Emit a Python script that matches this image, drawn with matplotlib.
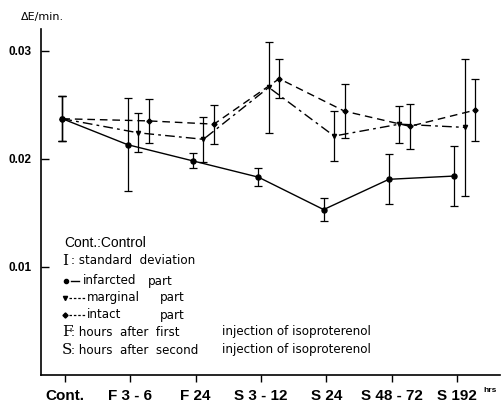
import numpy as np
import matplotlib
matplotlib.use("Agg")
import matplotlib.pyplot as plt
from matplotlib.lines import Line2D

# Time points (group labels) and measured activity (Delta E / min.)
groups = ["Cont.", "F 3 - 6", "F 24", "S 3 - 12", "S 24", "S 48 - 72", "S 192"]

infarcted_mean = [0.0237, 0.0213, 0.0198, 0.0183, 0.0153, 0.0181, 0.0184]
infarcted_sd = [0.0021, 0.0043, 0.0007, 0.0008, 0.0011, 0.0023, 0.0028]

marginal_mean = [0.0237, 0.0224, 0.0218, 0.0266, 0.0221, 0.0232, 0.0229]
marginal_sd = [0.0021, 0.0018, 0.0021, 0.0042, 0.0023, 0.0017, 0.0063]

intact_mean = [0.0237, 0.0235, 0.0232, 0.0274, 0.0244, 0.0230, 0.0245]
intact_sd = [0.0021, 0.0020, 0.0018, 0.0018, 0.0025, 0.0021, 0.0029]

yticks = [0.01, 0.02, 0.03]
ytick_labels = ["0.01", "0.02", "0.03"]

W, H = 503, 404
fig = plt.figure(figsize=(W / 100, H / 100), dpi=100)
ax = fig.add_axes([41 / W, 29 / H, 459 / W, 346 / H])

base = np.arange(len(groups))
# small horizontal shifts so the three series do not hide each other
shift_inf = np.array([-0.04] + [-0.04] * 6)
shift_mar = np.array([-0.04] + [0.12] * 6)
shift_int = np.array([-0.04] + [0.28] * 6)

err_kw = dict(ecolor="black", elinewidth=0.9, capsize=3.2, capthick=0.9)

ax.errorbar(base + shift_inf, infarcted_mean, yerr=infarcted_sd, color="black",
            lw=1.0, ls="-", marker="o", ms=3.6, mfc="black", mec="black", **err_kw)
ax.errorbar(base + shift_mar, marginal_mean, yerr=marginal_sd, color="black",
            lw=1.0, ls=(0, (7, 3, 2, 3)), marker="v", ms=3.0, mfc="black",
            mec="black", **err_kw)
ax.errorbar(base + shift_int, intact_mean, yerr=intact_sd, color="black",
            lw=1.0, ls=(0, (5.5, 3.5)), marker="D", ms=2.6, mfc="black",
            mec="black", **err_kw)

ax.set_xlim(-0.367, 6.66)
ax.set_ylim(0, 0.032)

for side in ("top", "right"):
    ax.spines[side].set_visible(False)
ax.spines["left"].set_linewidth(1.2)
ax.spines["bottom"].set_linewidth(1.2)

tick_family = ["Liberation Sans", "DejaVu Sans"]
ax.set_xticks(base)
ax.set_xticklabels(groups, fontfamily=tick_family, fontweight="bold", fontsize=11)
ax.tick_params(axis="x", direction="out", length=5, width=1.0, pad=5)

ax.set_yticks(yticks)
ax.set_yticklabels(ytick_labels, fontfamily=tick_family, fontweight="bold", fontsize=8.5)
ax.tick_params(axis="y", direction="in", length=6, width=1.0, pad=7)


def px(x, y):
    return x / W, 1 - y / H


# unit label over the y axis
fig.text(*px(42, 17), "\u0394E/min.", ha="center", va="center", fontsize=8,
         family="DejaVu Sans")
fig.text(*px(490, 391), "hrs", ha="center", va="center", fontsize=6,
         family=tick_family, fontweight="bold")

# key block
leg_font = dict(fontsize=8.6, family="DejaVu Sans", va="center", ha="left")
fig.text(*px(64, 243), "Cont.:Control", fontsize=10,
         family=tick_family, va="center", ha="left")
fig.text(*px(62, 261), "I", fontsize=11, family="DejaVu Serif", va="center", ha="left")
fig.text(*px(71, 261), ": standard  deviation", **leg_font)

# infarcted
fig.add_artist(Line2D([px(66, 0)[0]], [px(0, 281)[1]], marker="o", ms=3, color="black",
                      transform=fig.transFigure))
fig.add_artist(Line2D([px(71, 0)[0], px(79, 0)[0]], [px(0, 281)[1]] * 2, lw=1.0,
                      color="black", transform=fig.transFigure))
fig.text(*px(83, 281), "infarcted", **leg_font)
fig.text(*px(148, 281), "part", **leg_font)

# marginal
fig.add_artist(Line2D([px(65, 0)[0]], [px(0, 298)[1]], marker="v", ms=3, color="black",
                      transform=fig.transFigure))
fig.add_artist(Line2D([px(69, 0)[0], px(85, 0)[0]], [px(0, 298)[1]] * 2, lw=0.9,
                      ls=(0, (2, 1.5)), color="black", transform=fig.transFigure))
fig.text(*px(87, 298), "marginal", **leg_font)
fig.text(*px(160, 298), "part", **leg_font)

# intact
fig.add_artist(Line2D([px(65, 0)[0]], [px(0, 315)[1]], marker="D", ms=2.6, color="black",
                      transform=fig.transFigure))
fig.add_artist(Line2D([px(69, 0)[0], px(85, 0)[0]], [px(0, 315)[1]] * 2, lw=0.9,
                      ls=(0, (2, 1.5)), color="black", transform=fig.transFigure))
fig.text(*px(87, 315), "intact", **leg_font)
fig.text(*px(160, 315), "part", **leg_font)

# time-point abbreviations
fig.text(*px(62, 332), "F", fontsize=11, family="DejaVu Serif", va="center", ha="left")
fig.text(*px(71, 332), ": hours  after  first", **leg_font)
fig.text(*px(222, 332), "injection of isoproterenol", **leg_font)
fig.text(*px(62, 350), "S", fontsize=11, family="DejaVu Serif", va="center", ha="left")
fig.text(*px(71, 350), ": hours  after  second", **leg_font)
fig.text(*px(222, 350), "injection of isoproterenol", **leg_font)

fig.savefig("out.png", dpi=100)
